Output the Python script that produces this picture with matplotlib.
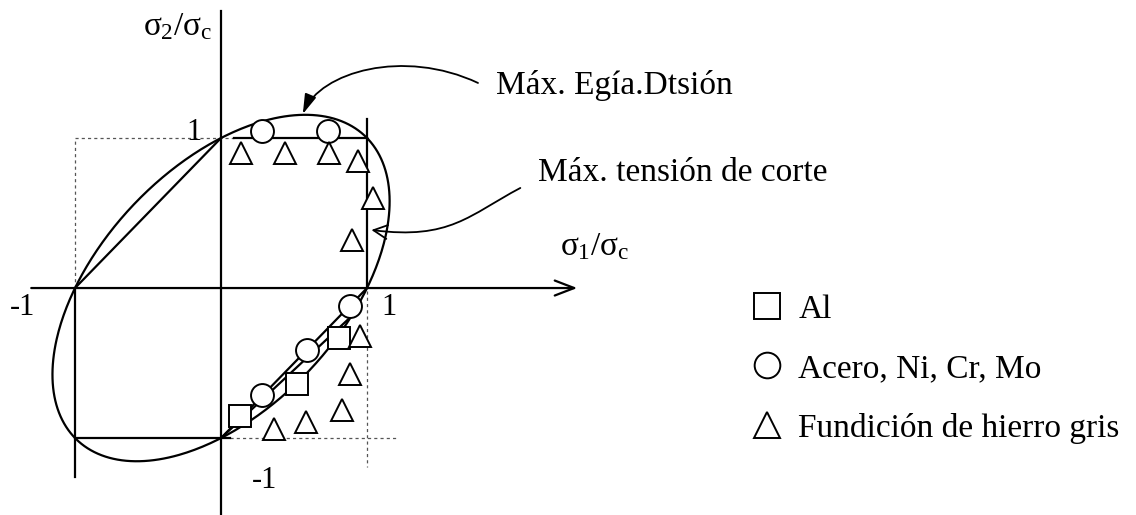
import numpy as np
import matplotlib.pyplot as plt
from matplotlib.path import Path
from matplotlib.patches import FancyArrowPatch

plt.rcParams['font.family'] = ['Liberation Serif', 'DejaVu Serif']
plt.rcParams['mathtext.fontset'] = 'custom'
plt.rcParams['mathtext.rm'] = 'Liberation Serif'
plt.rcParams['mathtext.it'] = 'Liberation Serif'

# Test results, stresses normalised by sigma_c
al_s1 = [0.13, 0.52, 0.81]
al_s2 = [-0.85, -0.64, -0.33]

acero_s1 = [0.28, 0.73, 0.88, 0.59, 0.28]
acero_s2 = [1.05, 1.05, -0.12, -0.41, -0.71]

fundicion_s1 = [0.14, 0.44, 0.74, 0.94, 1.04, 0.90, 0.95, 0.88, 0.83, 0.58, 0.36]
fundicion_s2 = [0.90, 0.90, 0.90, 0.85, 0.60, 0.32, -0.32, -0.57, -0.81, -0.89, -0.94]

labels = ['Al', 'Acero, Ni, Cr, Mo', 'Fundición de hierro gris']

# Von Mises ellipse: s1^2 - s1*s2 + s2^2 = 1
theta = np.linspace(0, 2 * np.pi, 400)
a_major = np.sqrt(2)
b_minor = np.sqrt(2.0 / 3.0)
ell_s1 = (a_major * np.cos(theta) - b_minor * np.sin(theta)) / np.sqrt(2)
ell_s2 = (a_major * np.cos(theta) + b_minor * np.sin(theta)) / np.sqrt(2)

fig = plt.figure(figsize=(11.36, 5.15), dpi=100)
ax = fig.add_axes([0, 0, 1, 1])
ax.set_xlim(-1.514, 6.267)
ax.set_ylim(-1.513, 1.92)
ax.axis('off')

lw = 1.6
dot = dict(color='#555555', lw=0.9, ls=(0, (2.5, 2.5)))

# axes
ax.annotate('', xy=(2.44, 0), xytext=(-1.30, 0),
            arrowprops=dict(arrowstyle='->,head_length=0.7,head_width=0.27',
                            mutation_scale=20, lw=lw, color='black',
                            shrinkA=0, shrinkB=0))
ax.plot([0, 0], [-1.52, 1.85], color='black', lw=lw)

# guide lines at +-1
ax.plot([-1, 0.09], [1, 1], **dot)
ax.plot([-1, -1], [0, 1], **dot)
ax.plot([0.06, 1.21], [-1, -1], **dot)
ax.plot([1, 1], [-0.02, -1.19], **dot)

# maximum shear stress (Tresca) hexagon
ax.plot([0.09, 1], [1, 1], color='black', lw=lw)
ax.plot([1, 1], [0, 1.13], color='black', lw=lw)
ax.plot([-1, 0], [0, 1], color='black', lw=lw)
ax.plot([-1, -1], [0, -1.26], color='black', lw=lw)
ax.plot([-1, 0.06], [-1, -1], color='black', lw=lw)
ax.plot([0, 1], [-1, 0], color='black', lw=lw)
ax.plot([0, 0.88], [-1, -0.2], color='black', lw=lw)

# von Mises ellipse
ax.plot(ell_s1, ell_s2, color='black', lw=lw)

# experimental points
mk = dict(ls='none', markersize=16.5, markerfacecolor='white',
          markeredgecolor='black', markeredgewidth=1.4, zorder=5)
ax.plot(al_s1, al_s2, marker='s', label=labels[0], **mk)
ax.plot(acero_s1, acero_s2, marker='o', label=labels[1], **mk)
ax.plot(fundicion_s1, fundicion_s2, marker='^', label=labels[2], **mk)

# callout arrows
p1 = Path([(1.76, 1.367), (1.25, 1.60), (0.68, 1.44), (0.56, 1.16)],
          [Path.MOVETO, Path.CURVE4, Path.CURVE4, Path.CURVE4])
ax.add_patch(FancyArrowPatch(path=p1, arrowstyle='-|>,head_length=0.4,head_width=0.12',
                             mutation_scale=30, lw=1.3, color='black'))
p2 = Path([(2.05, 0.667), (1.70, 0.487), (1.57, 0.32), (1.03, 0.387)],
          [Path.MOVETO, Path.CURVE4, Path.CURVE4, Path.CURVE4])
ax.add_patch(FancyArrowPatch(path=p2, arrowstyle='->,head_length=0.5,head_width=0.25',
                             mutation_scale=20, lw=1.3, color='black'))

# text
fs = 24
ax.text(1.88, 1.353, 'Máx. Egía.Dtsión', fontsize=fs, va='center', ha='left')
ax.text(2.17, 0.767, 'Máx. tensión de corte', fontsize=fs, va='center', ha='left')
ax.text(2.32, 0.273, r'$\sigma_1/\sigma_c$', fontsize=fs, va='center', ha='left')
ax.text(-0.06, 1.74, r'$\sigma_2/\sigma_c$', fontsize=fs, va='center', ha='right')

nfs = 22
ax.text(-0.185, 1.04, '1', fontsize=nfs, va='center', ha='center')
ax.text(-1.36, -0.13, '-1', fontsize=nfs, va='center', ha='center')
ax.text(1.15, -0.13, '1', fontsize=nfs, va='center', ha='center')
ax.text(0.30, -1.28, '-1', fontsize=nfs, va='center', ha='center')

ax.legend(loc='center left', bbox_to_anchor=(750 / 1136, 1 - 369 / 515),
          frameon=False, fontsize=fs, handlelength=1.0, handletextpad=0.45,
          labelspacing=0.87, borderpad=0, borderaxespad=0, markerscale=1.12)

fig.savefig('out.png', dpi=100)
